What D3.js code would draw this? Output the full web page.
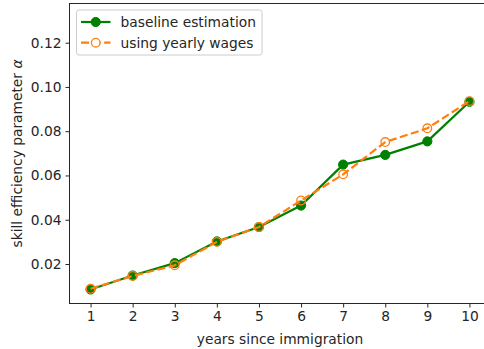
<!DOCTYPE html>
<html>
<head>
<meta charset="utf-8">
<script src="https://cdn.jsdelivr.net/npm/d3@7"></script>
<style>
  html, body { margin: 0; padding: 0; background: #fff; }
  svg { display: block; font-family: "DejaVu Sans", sans-serif; }
</style>
</head>
<body>
<svg id="chart" width="484" height="349"></svg>
<script>
// Years since immigration and the estimated skill efficiency parameter per year
const years = [1, 2, 3, 4, 5, 6, 7, 8, 9, 10];
const baseline = [0.0085, 0.0148, 0.0204, 0.0302, 0.0367, 0.0464, 0.0649, 0.0693, 0.0754, 0.0933];
const yearlyWages = [0.0088, 0.0146, 0.0194, 0.0300, 0.0367, 0.0487, 0.0605, 0.0751, 0.0813, 0.0936];
const yTicks = [0.02, 0.04, 0.06, 0.08, 0.10, 0.12];
const seriesNames = ["baseline estimation", "using yearly wages"];

const svg = d3.select("#chart");
const plot = { left: 69.5, right: 490.5, top: 3.5, bottom: 303.5 };
const fontSize = "13.8px";

const x = d3.scaleLinear().domain([0.5, 10.5]).range([plot.left, plot.right]);
const y = d3.scaleLinear().domain([0.00215, 0.1377]).range([plot.bottom, plot.top]);

const textColor = "#262626";

// axes
const xAxis = d3.axisBottom(x).tickValues(years).tickFormat(d3.format("d")).tickSize(4).tickPadding(4);
const yAxis = d3.axisLeft(y).tickValues(yTicks).tickFormat(d3.format(".2f")).tickSize(4).tickPadding(4);

const gx = svg.append("g").attr("transform", `translate(0,${plot.bottom})`).call(xAxis);
const gy = svg.append("g").attr("transform", `translate(${plot.left},0)`).call(yAxis);
[gx, gy].forEach(g => {
  g.select(".domain").remove();
  g.selectAll(".tick line").attr("stroke", textColor).attr("stroke-width", 1);
  g.selectAll(".tick text").attr("fill", textColor).style("font-size", fontSize).style("font-family", "DejaVu Sans, sans-serif");
});

// frame (top, left and bottom spines; the right spine falls outside the canvas)
svg.append("rect")
  .attr("x", plot.left).attr("y", plot.top)
  .attr("width", plot.right - plot.left).attr("height", plot.bottom - plot.top)
  .attr("fill", "none").attr("stroke", textColor).attr("stroke-width", 1);

// axis titles
svg.append("text")
  .attr("x", 280)
  .attr("y", 343.5)
  .attr("text-anchor", "middle")
  .attr("fill", textColor)
  .style("font-size", fontSize)
  .text("years since immigration");

svg.append("text")
  .attr("transform", `translate(17,${(plot.top + plot.bottom) / 2}) rotate(-90)`)
  .attr("text-anchor", "middle")
  .attr("dominant-baseline", "central")
  .attr("fill", textColor)
  .style("font-size", fontSize)
  .html('skill efficiency parameter <tspan font-style="italic">α</tspan>');

// series
const green = "#008000";
const orange = "#ff7f0e";
const line = d3.line().x(d => x(d[0])).y(d => y(d[1]));

const g1 = svg.append("g");
g1.append("path")
  .datum(d3.zip(years, baseline))
  .attr("d", line)
  .attr("fill", "none").attr("stroke", green).attr("stroke-width", 2.2)
  .attr("stroke-linejoin", "round").attr("stroke-linecap", "square");
g1.selectAll("circle").data(d3.zip(years, baseline)).join("circle")
  .attr("cx", d => x(d[0])).attr("cy", d => y(d[1])).attr("r", 4.6)
  .attr("fill", green).attr("stroke", green).attr("stroke-width", 1);

const g2 = svg.append("g");
g2.append("path")
  .datum(d3.zip(years, yearlyWages))
  .attr("d", line)
  .attr("fill", "none").attr("stroke", orange).attr("stroke-width", 2.2)
  .attr("stroke-dasharray", "8.1,3.5")
  .attr("stroke-linejoin", "round");
g2.selectAll("circle").data(d3.zip(years, yearlyWages)).join("circle")
  .attr("cx", d => x(d[0])).attr("cy", d => y(d[1])).attr("r", 4.3)
  .attr("fill", "none").attr("stroke", orange).attr("stroke-width", 1.3);

// legend
const legend = svg.append("g");
legend.append("rect")
  .attr("x", 76.5).attr("y", 10).attr("width", 185.5).attr("height", 45)
  .attr("rx", 2.5).attr("fill", "#fff").attr("fill-opacity", 0.8)
  .attr("stroke", "#cccccc").attr("stroke-width", 1);

const rows = [
  { name: seriesNames[0], color: green, dash: null, filled: true, cy: 22 },
  { name: seriesNames[1], color: orange, dash: "8.1,3.5", filled: false, cy: 42.7 }
];
rows.forEach(r => {
  legend.append("line")
    .attr("x1", 81).attr("x2", 110.5).attr("y1", r.cy).attr("y2", r.cy)
    .attr("stroke", r.color).attr("stroke-width", 2.2)
    .attr("stroke-dasharray", r.dash);
  legend.append("circle")
    .attr("cx", 95.75).attr("cy", r.cy).attr("r", r.filled ? 4.6 : 4.3)
    .attr("fill", r.filled ? r.color : "#fff")
    .attr("stroke", r.color).attr("stroke-width", r.filled ? 1 : 1.3);
  legend.append("text")
    .attr("x", 120.5).attr("y", r.cy)
    .attr("dominant-baseline", "central")
    .attr("fill", textColor)
    .style("font-size", fontSize)
    .text(r.name);
});
</script>
</body>
</html>
